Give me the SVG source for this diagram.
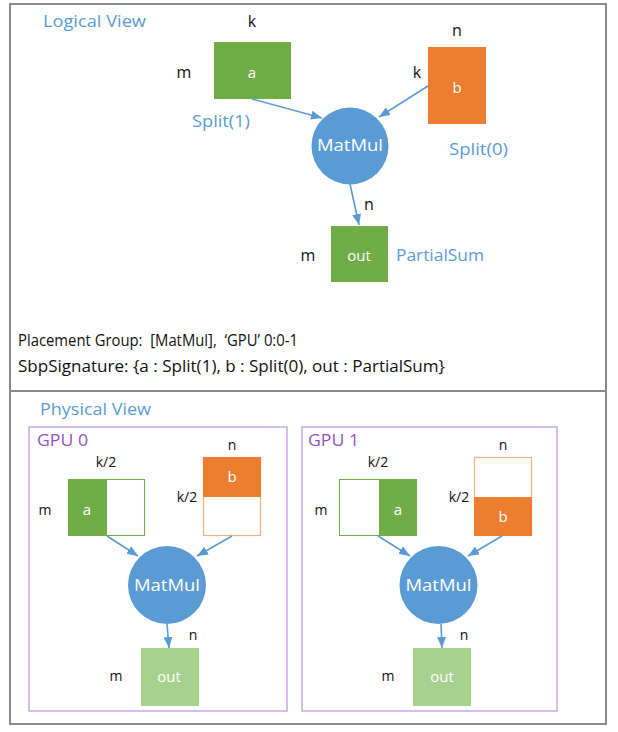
<svg xmlns="http://www.w3.org/2000/svg" width="618" height="732" viewBox="0 0 618 732">
<defs>
<marker id="ah" markerUnits="userSpaceOnUse" markerWidth="11" markerHeight="9" refX="11" refY="4.5" orient="auto">
<path d="M0,0 L11,4.5 L0,9 z" fill="#5b9bd5"/>
</marker>
<style>
text{font-family:"Open Sans","Liberation Sans",sans-serif;}
.lbl{font-size:14px;fill:#111;text-anchor:middle;}
.lbl16{font-size:16px;fill:#111;text-anchor:middle;}
.blue{fill:#5b9bd5;font-size:16px;}
.wt{fill:#fff;text-anchor:middle;font-size:15px;}
.mm{fill:#fff;text-anchor:middle;font-size:16px;}
.gpu{fill:#8e55c4;font-size:16px;}
.gbox{fill:none;stroke:#c9a6e4;stroke-width:1.5;}
.green{fill:#70ad47;}
.lgreen{fill:#a9d18e;}
.orange{fill:#ed7d31;}
.gout{fill:#fff;stroke:#70ad47;stroke-width:1;}
.oout{fill:#fff;stroke:#f4b183;stroke-width:1.2;}
.circ{fill:#5b9bd5;}
.conn{stroke:#5b9bd5;stroke-width:1.6;fill:none;marker-end:url(#ah);}
.frame{fill:none;stroke:#8a8a8a;stroke-width:2;}
.body{fill:#111;font-size:16px;white-space:pre;}
</style>
</defs>

<g id="frame">
<rect class="frame" x="10" y="4" width="596" height="720"/>
<line class="frame" x1="10" y1="391" x2="606" y2="391"/>
</g>

<g id="logical-view">
<text class="blue" x="43" y="27" font-size="17" textLength="103" lengthAdjust="spacingAndGlyphs">Logical View</text>
</g>

<g id="node-a">
<rect class="green" x="214" y="42" width="77" height="57"/>
<text class="wt" x="252" y="78" font-size="17">a</text>
<text class="lbl16" x="252" y="27">k</text>
<text class="lbl16" x="184" y="78">m</text>
<text class="blue" x="192" y="127" textLength="58" lengthAdjust="spacingAndGlyphs">Split(1)</text>
</g>

<g id="node-b">
<rect class="orange" x="428" y="47" width="58" height="77"/>
<text class="wt" x="457" y="93" font-size="17">b</text>
<text class="lbl16" x="457" y="36">n</text>
<text class="lbl16" x="417" y="78">k</text>
<text class="blue" x="449" y="155" textLength="59" lengthAdjust="spacingAndGlyphs">Split(0)</text>
</g>

<g id="node-matmul">
<circle class="circ" cx="350" cy="146" r="38.5"/>
<text class="mm" x="350" y="151" font-size="17" textLength="66" lengthAdjust="spacingAndGlyphs">MatMul</text>
</g>

<g id="node-out">
<rect class="green" x="331" y="226" width="57" height="56"/>
<text class="wt" x="359" y="261" font-size="17">out</text>
<text class="lbl16" x="369" y="210">n</text>
<text class="lbl16" x="308" y="261">m</text>
<text class="blue" x="396" y="261" textLength="88" lengthAdjust="spacingAndGlyphs">PartialSum</text>
</g>

<g id="placement-text">
<text class="body" x="18" y="346" textLength="280" lengthAdjust="spacingAndGlyphs">Placement Group:  [MatMul],  ‘GPU’ 0:0-1</text>
<text class="body" x="18" y="372" textLength="427" lengthAdjust="spacingAndGlyphs">SbpSignature: {a : Split(1), b : Split(0), out : PartialSum}</text>
</g>

<g id="physical-view">
<text class="blue" x="40" y="415" font-size="17" textLength="111" lengthAdjust="spacingAndGlyphs">Physical View</text>
</g>

<g id="gpu0">
<rect class="gbox" x="29" y="427" width="258" height="284"/>
<text class="gpu" x="37" y="446" textLength="51" lengthAdjust="spacingAndGlyphs">GPU 0</text>
</g>

<g id="gpu0-a">
<rect class="gout" x="68.5" y="479.5" width="76" height="56"/>
<rect class="green" x="68" y="479" width="39" height="57"/>
<text class="wt" x="87" y="515" font-size="14">a</text>
<text class="lbl" x="106" y="467">k/2</text>
<text class="lbl" x="45" y="515">m</text>
</g>

<g id="gpu0-b">
<rect class="oout" x="203.5" y="457.5" width="57" height="78"/>
<rect class="orange" x="203" y="457" width="58" height="40"/>
<text class="wt" x="232" y="482" font-size="14">b</text>
<text class="lbl" x="232" y="450">n</text>
<text class="lbl" x="187" y="502">k/2</text>
</g>

<g id="gpu0-matmul">
<circle class="circ" cx="167" cy="585" r="39"/>
<text class="mm" x="167" y="591" textLength="66" lengthAdjust="spacingAndGlyphs">MatMul</text>
</g>

<g id="gpu0-out">
<rect class="lgreen" x="141" y="648" width="58" height="58"/>
<text class="wt" x="169" y="682">out</text>
<text class="lbl" x="193" y="640">n</text>
<text class="lbl" x="116" y="681">m</text>
</g>

<g id="gpu1">
<rect class="gbox" x="302" y="427" width="255" height="284"/>
<text class="gpu" x="308" y="446" textLength="51" lengthAdjust="spacingAndGlyphs">GPU 1</text>
</g>

<g id="gpu1-a">
<rect class="gout" x="339.5" y="479.5" width="77" height="56"/>
<rect class="green" x="379" y="479" width="38" height="57"/>
<text class="wt" x="398" y="515" font-size="14">a</text>
<text class="lbl" x="378" y="467">k/2</text>
<text class="lbl" x="321" y="515">m</text>
</g>

<g id="gpu1-b">
<rect class="oout" x="474.5" y="457.5" width="57" height="78"/>
<rect class="orange" x="474" y="497" width="58" height="39"/>
<text class="wt" x="503" y="522" font-size="14">b</text>
<text class="lbl" x="503" y="450">n</text>
<text class="lbl" x="459" y="502">k/2</text>
</g>

<g id="gpu1-matmul">
<circle class="circ" cx="438.5" cy="585" r="39"/>
<text class="mm" x="438.5" y="591" textLength="66" lengthAdjust="spacingAndGlyphs">MatMul</text>
</g>

<g id="gpu1-out">
<rect class="lgreen" x="413" y="648" width="58" height="58"/>
<text class="wt" x="442" y="682">out</text>
<text class="lbl" x="464" y="640">n</text>
<text class="lbl" x="388" y="681">m</text>
</g>

<g id="connectors">
<line class="conn" x1="252" y1="99" x2="322" y2="118"/>
<line class="conn" x1="428" y1="86" x2="379" y2="117"/>
<line class="conn" x1="350" y1="184" x2="359" y2="225"/>
<line class="conn" x1="107" y1="536" x2="138" y2="556"/>
<line class="conn" x1="232" y1="536" x2="197" y2="556"/>
<line class="conn" x1="167" y1="624" x2="169" y2="648"/>
<line class="conn" x1="378" y1="536" x2="410" y2="556"/>
<line class="conn" x1="502" y1="536" x2="468" y2="556"/>
<line class="conn" x1="441" y1="624" x2="442" y2="648"/>
</g>
</svg>
